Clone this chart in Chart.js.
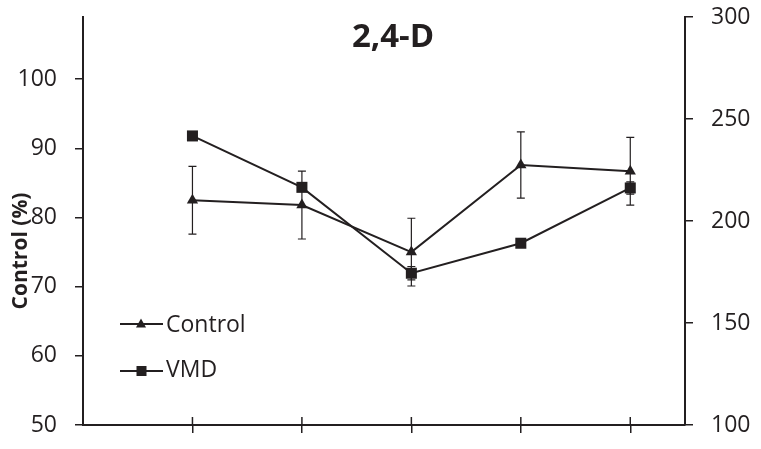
<!DOCTYPE html>
<html>
<head>
<meta charset="utf-8">
<script src="https://cdn.jsdelivr.net/npm/chart.js@4/dist/chart.umd.min.js"></script>
<style>
html,body{margin:0;padding:0;background:#fff;}
canvas{display:block;}
</style>
</head>
<body>
<canvas id="c" width="761" height="449"></canvas>
<script>
// ---- data ----
const categories = [1, 2, 3, 4, 5];
const controlValues = [82.5, 81.8, 75.0, 87.6, 86.7];
const controlErrors = [4.9, 4.9, 4.9, 4.8, 4.9];
const vmdValues = [241.7, 216.5, 174.4, 189.1, 216.2];
const vmdErrors = [2, 2, 3.3, 2, 3];
const leftTicks = [50, 60, 70, 80, 90, 100];
const rightTicks = [100, 150, 200, 250, 300];
const chartTitle = '2,4-D';
const yTitle = 'Control (%)';
const seriesNames = ['Control', 'VMD'];

const INK = '#231f20';
const FONT = '"Open Sans", "DejaVu Sans", sans-serif';

function noPad(scale) {
  scale.paddingTop = 0; scale.paddingBottom = 0;
  scale.paddingLeft = 0; scale.paddingRight = 0;
}

const errorBars = {
  id: 'errorBars',
  beforeDatasetsDraw(chart) {
    const ctx = chart.ctx;
    const xs = chart.scales.x;
    const sets = [
      {scale: chart.scales.y, vals: controlValues, errs: controlErrors},
      {scale: chart.scales.y1, vals: vmdValues, errs: vmdErrors}
    ];
    ctx.save();
    ctx.strokeStyle = INK;
    ctx.lineWidth = 1.2;
    sets.forEach(s => {
      categories.forEach((c, i) => {
        const x = xs.getPixelForValue(c);
        const top = s.scale.getPixelForValue(s.vals[i] + s.errs[i]);
        const bot = s.scale.getPixelForValue(s.vals[i] - s.errs[i]);
        ctx.beginPath();
        ctx.moveTo(x, top); ctx.lineTo(x, bot);
        ctx.moveTo(x - 4, top); ctx.lineTo(x + 4, top);
        ctx.moveTo(x - 4, bot); ctx.lineTo(x + 4, bot);
        ctx.stroke();
      });
    });
    ctx.restore();
  }
};

const decorations = {
  id: 'decorations',
  afterDraw(chart) {
    const ctx = chart.ctx;
    const xs = chart.scales.x;
    const area = chart.chartArea;
    ctx.save();
    // upward half of x tick marks
    ctx.strokeStyle = INK;
    ctx.lineWidth = 1.5;
    categories.forEach(c => {
      const x = xs.getPixelForValue(c);
      ctx.beginPath();
      ctx.moveTo(x, area.bottom - 8);
      ctx.lineTo(x, area.bottom);
      ctx.stroke();
    });
    // title
    ctx.fillStyle = INK;
    ctx.font = 'bold 33px ' + FONT;
    ctx.textAlign = 'center';
    ctx.textBaseline = 'alphabetic';
    ctx.fillText(chartTitle, 393, 47);
    // y axis title
    ctx.save();
    ctx.translate(27, 251);
    ctx.rotate(-Math.PI / 2);
    ctx.font = 'bold 21px ' + FONT;
    ctx.textAlign = 'center';
    ctx.fillText(yTitle, 0, 0);
    ctx.restore();
    // legend
    const rows = [{y: 324, base: 332, shape: 'tri'}, {y: 371, base: 377, shape: 'sq'}];
    ctx.font = '23px ' + FONT;
    ctx.textAlign = 'left';
    rows.forEach((r, i) => {
      ctx.strokeStyle = INK;
      ctx.lineWidth = 2;
      ctx.beginPath();
      ctx.moveTo(120, r.y); ctx.lineTo(163, r.y);
      ctx.stroke();
      ctx.beginPath();
      if (r.shape === 'tri') {
        ctx.moveTo(141, r.y - 5.5); ctx.lineTo(146, r.y + 3.5); ctx.lineTo(136, r.y + 3.5);
        ctx.closePath();
        ctx.fill();
      } else {
        ctx.fillRect(136.5, r.y - 5, 10, 10);
      }
      ctx.fillText(chart.data.datasets[i].label, 166, r.base);
    });
    ctx.restore();
  }
};

new Chart(document.getElementById('c'), {
  type: 'line',
  data: {
    datasets: [
      {
        label: seriesNames[0],
        data: categories.map((c, i) => ({x: c, y: controlValues[i]})),
        yAxisID: 'y',
        borderColor: INK,
        backgroundColor: INK,
        borderWidth: 2,
        pointStyle: 'triangle',
        pointRadius: 6.5,
        pointBackgroundColor: INK,
        pointBorderWidth: 0,
        tension: 0
      },
      {
        label: seriesNames[1],
        data: categories.map((c, i) => ({x: c, y: vmdValues[i]})),
        yAxisID: 'y1',
        borderColor: INK,
        backgroundColor: INK,
        borderWidth: 2,
        pointStyle: 'rect',
        pointRadius: 7.8,
        pointBackgroundColor: INK,
        pointBorderWidth: 0,
        tension: 0
      }
    ]
  },
  options: {
    responsive: false,
    animation: false,
    devicePixelRatio: 1,
    layout: {padding: {top: 17, left: 0, right: 0, bottom: 0}},
    plugins: {legend: {display: false}, tooltip: {enabled: false}, title: {display: false}},
    scales: {
      x: {
        type: 'linear',
        min: 0,
        max: 5.5,
        afterBuildTicks(scale) { scale.ticks = categories.map(v => ({value: v})); },
        afterFit(scale) { scale.height = 24; noPad(scale); },
        ticks: {display: false},
        grid: {display: true, drawOnChartArea: false, drawTicks: true, tickLength: 8, color: INK, lineWidth: 1.5},
        border: {display: true, color: INK, width: 2}
      },
      y: {
        type: 'linear',
        position: 'left',
        min: 50,
        max: 109,
        afterBuildTicks(scale) { scale.ticks = leftTicks.map(v => ({value: v})); },
        afterFit(scale) { scale.width = 83; noPad(scale); },
        ticks: {color: INK, padding: 18, font: {family: FONT, size: 23}},
        grid: {drawOnChartArea: false, drawTicks: true, tickLength: 8, color: INK, lineWidth: 1.5},
        border: {display: true, color: INK, width: 2}
      },
      y1: {
        type: 'linear',
        position: 'right',
        min: 100,
        max: 300,
        afterBuildTicks(scale) { scale.ticks = rightTicks.map(v => ({value: v})); },
        afterFit(scale) { scale.width = 76; noPad(scale); },
        ticks: {color: INK, padding: 18, font: {family: FONT, size: 23}},
        grid: {drawOnChartArea: false, drawTicks: true, tickLength: 8, color: INK, lineWidth: 1.5},
        border: {display: true, color: INK, width: 2}
      }
    }
  },
  plugins: [errorBars, decorations]
});
</script>
</body>
</html>
